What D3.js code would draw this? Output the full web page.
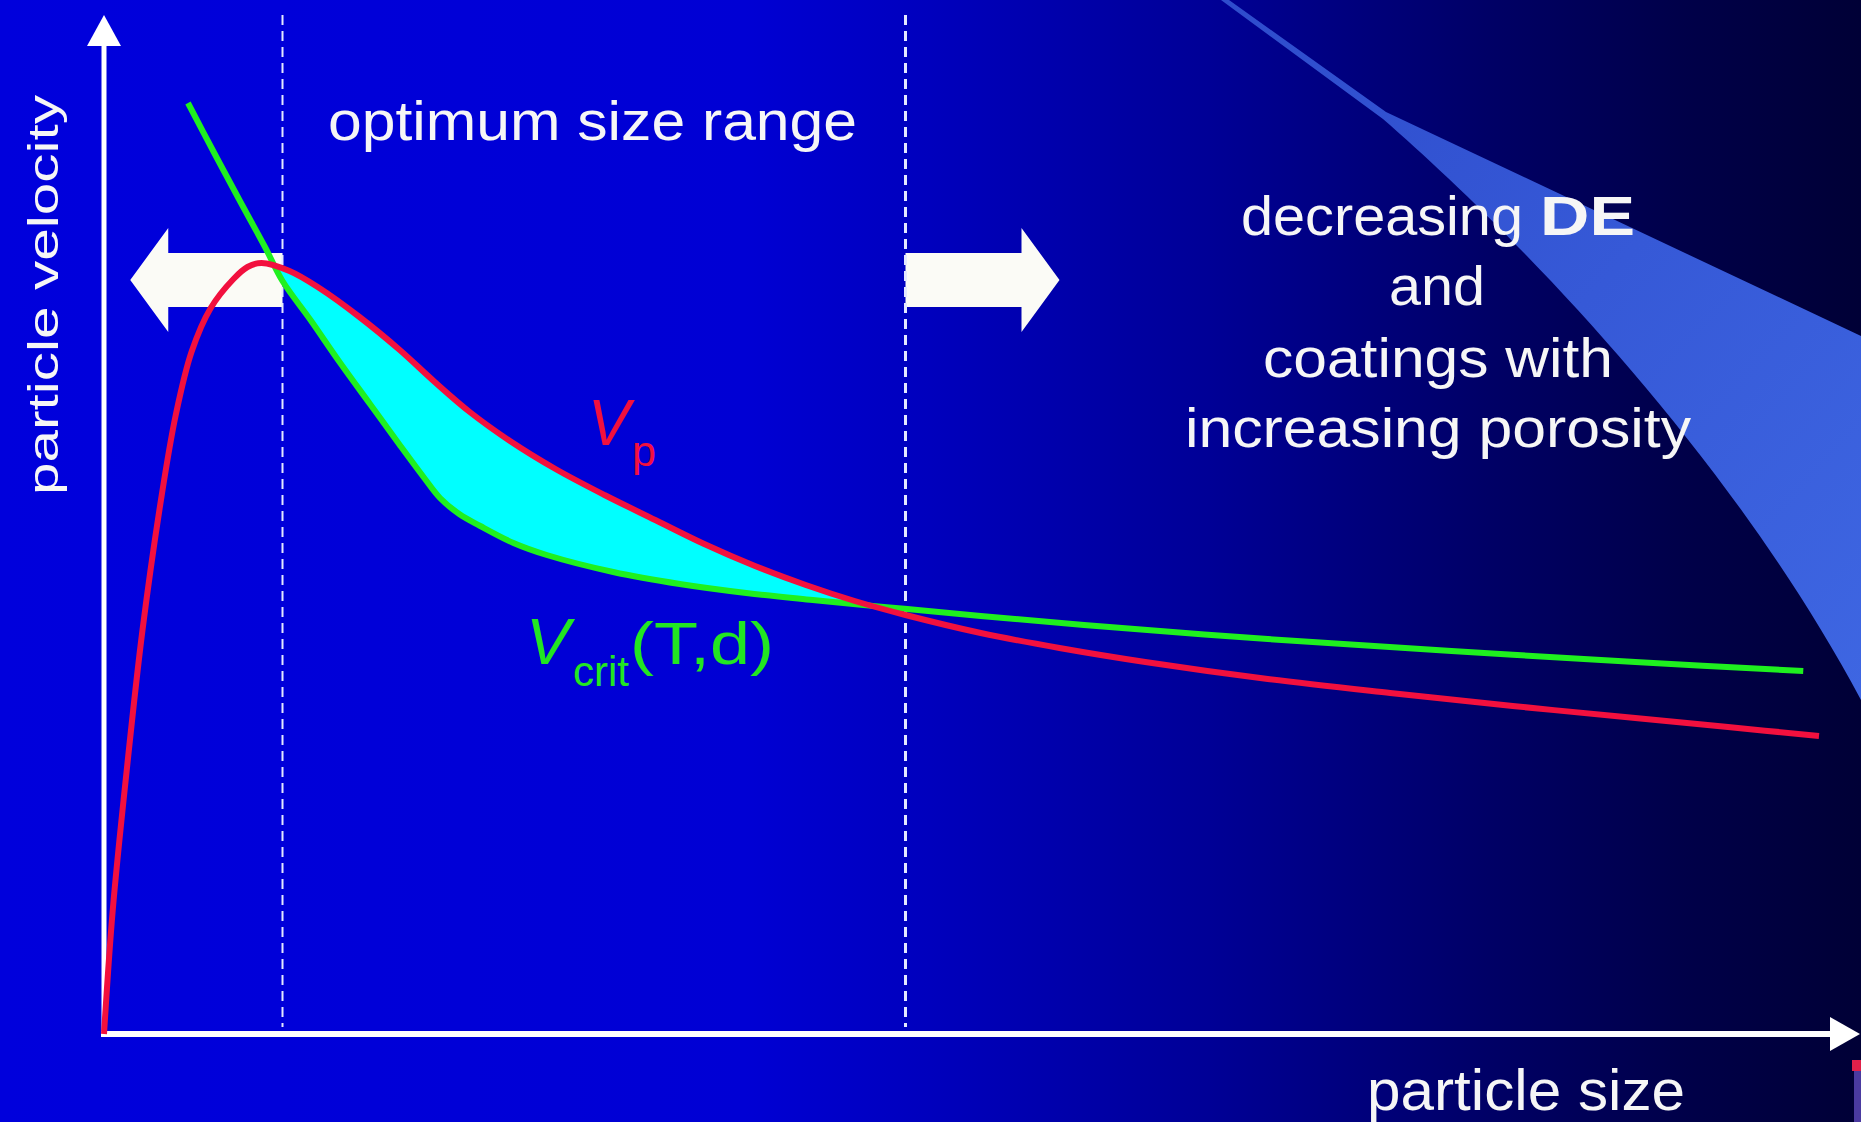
<!DOCTYPE html>
<html>
<head>
<meta charset="utf-8">
<script src="https://cdn.jsdelivr.net/npm/d3@7"></script>
<style>
  html, body { margin: 0; padding: 0; background: #000; overflow: hidden; }
  svg { display: block; }
  text { font-family: "Liberation Sans", Arial, Helvetica, sans-serif; }
</style>
</head>
<body>
<svg id="chart" width="1861" height="1122"></svg>
<script>
// particle size is in arbitrary units (0-100), velocity too (0-100)
// values

// particle velocity Vp (red)
const vpSize  = [0, 0.5, 1.3, 2.2, 3.3, 4.1, 5.0, 6.1, 7.4, 8.2, 9.0, 10.6, 12.3, 14.6, 16.9, 18.9, 20.9, 23.2,
                 25.8, 28.6, 31.5, 34.3, 37.2, 40.1, 42.9, 45.8, 50.1, 54.6, 59.5, 66.5, 73.5, 80.5, 87.5, 92.8, 98.0];
const vpValue = [0, 12.4, 26.4, 40.4, 53.9, 61.9, 68.2, 72.6, 75.5, 76.7, 77.1, 76.3, 74.6, 71.7, 68.4, 65.2, 62.2, 59.3,
                 56.5, 53.9, 51.4, 49.0, 46.8, 44.9, 43.3, 41.9, 40.1, 38.6, 37.2, 35.5, 34.1, 32.8, 31.6, 30.7, 29.8];

// critical velocity Vcrit(T,d) (green)
const vcSize  = [4.8, 6.3, 7.8, 9.2, 10.2, 11.8, 13.5, 15.2, 16.9, 18.3, 19.2, 20.3, 21.5, 23.4, 25.3,
                 29.1, 32.9, 36.7, 40.5, 43.4, 45.9, 50.1, 56.0, 66.5, 77.0, 87.5, 97.1];
const vcValue = [93.1, 88.1, 83.2, 78.7, 75.3, 71.4, 67.1, 63.0, 58.9, 55.6, 53.6, 52.0, 50.8, 49.1, 47.9,
                 46.2, 45.0, 44.1, 43.4, 42.9, 42.5, 41.8, 40.9, 39.5, 38.3, 37.2, 36.3];

// where Vp > Vcrit (cyan window), and the dashed "optimum size range" bounds
const windowBounds = [9.6, 43.9];
const rangeBounds = [10.2, 45.8];
// block arrows: [from, to] in size units, at this velocity level
const arrowLeft = [10.2, 1.5];
const arrowRight = [45.8, 54.6];
const arrowLevel = 75.4;

const W = 1861, H = 1122;
const svg = d3.select('#chart');

const x = d3.scaleLinear().domain([0, 100]).range([104, 1854]);
const y = d3.scaleLinear().domain([0, 100]).range([1034, 34]);

const defs = svg.append('defs');

// slide background: bright blue fading to navy on the right
const bg = defs.append('linearGradient').attr('id', 'bgGrad')
    .attr('x1', 0).attr('y1', 0).attr('x2', 1).attr('y2', 0);
[[0, '#0000dc'], [0.4, '#0000d4'], [0.5, '#0000bd'], [0.65, '#000096'], [0.8, '#000066'], [0.9, '#00004a'], [1, '#000036']]
    .forEach(s => bg.append('stop').attr('offset', s[0]).attr('stop-color', s[1]));

const sw = defs.append('linearGradient').attr('id', 'swGrad')
    .attr('x1', 0).attr('y1', 0).attr('x2', 1).attr('y2', 1);
sw.append('stop').attr('offset', 0).attr('stop-color', '#2e4ccc');
sw.append('stop').attr('offset', 1).attr('stop-color', '#3e66e2');

svg.append('rect').attr('width', W).attr('height', H).attr('fill', 'url(#bgGrad)');

// the template swoosh in the top right corner: thin at the top, then widening
svg.append('path')
    .attr('d', 'M1221,0 L1229,0 L1386,112 L1861,336 L1861,700 C1725,445 1505,225 1383,119 Z')
    .attr('fill', 'url(#swGrad)');

// little logo corner bottom right
svg.append('rect').attr('x', 1852).attr('y', 1060).attr('width', 9).attr('height', 11).attr('fill', '#e0204a');
svg.append('rect').attr('x', 1854).attr('y', 1071).attr('width', 7).attr('height', 51).attr('fill', '#4a3aa0');

// block arrows
function blockArrow(from, to) {
    const x0 = x(from), x1 = x(to), cy = y(arrowLevel);
    const dir = Math.sign(x1 - x0);
    const headLen = 38, body = 27, head = 52;
    const xb = x1 - dir * headLen;
    return [[x0, cy - body], [xb, cy - body], [xb, cy - head], [x1, cy], [xb, cy + head], [xb, cy + body], [x0, cy + body]];
}
[arrowLeft, arrowRight].forEach(a => {
    svg.append('polygon')
        .attr('points', blockArrow(a[0], a[1]).map(p => p.join(',')).join(' '))
        .attr('fill', '#fbfbf6');
});

// dashed bounds of the optimum size range
rangeBounds.forEach((d, i) => {
    svg.append('line')
        .attr('x1', x(d)).attr('x2', x(d))
        .attr('y1', 15).attr('y2', 1027)
        .attr('stroke', '#e4e8ff')
        .attr('stroke-width', i === 0 ? 2 : 3)
        .attr('stroke-dasharray', '10,6');
});

// axes with arrow heads
const ax = svg.append('g').attr('class', 'axes');
ax.append('line').attr('x1', x(0)).attr('x2', x(0)).attr('y1', y(0) + 3).attr('y2', 40)
    .attr('stroke', '#fff').attr('stroke-width', 5);
ax.append('polygon').attr('points', [[x(0), 15], [x(0) - 17, 46], [x(0) + 17, 46]].map(p => p.join(',')).join(' '))
    .attr('fill', '#fff');
ax.append('line').attr('x1', x(0) - 3).attr('x2', 1835).attr('y1', y(0)).attr('y2', y(0))
    .attr('stroke', '#fff').attr('stroke-width', 6);
ax.append('polygon').attr('points', [[1860, y(0)], [1830, y(0) - 17], [1830, y(0) + 17]].map(p => p.join(',')).join(' '))
    .attr('fill', '#fff');

// curves
const vp = vpSize.map((d, i) => [d, vpValue[i]]);
const vc = vcSize.map((d, i) => [d, vcValue[i]]);

const line = d3.line().x(d => x(d[0])).y(d => y(d[1])).curve(d3.curveCatmullRom.alpha(0.5));

function interp(pts, s) {
    const f = d3.scaleLinear().domain(pts.map(p => p[0])).range(pts.map(p => p[1]));
    return f(s);
}

// cyan window between the curves
const [w0, w1] = windowBounds;
const upper = [[w0, interp(vp, w0)], ...vp.filter(p => p[0] > w0 && p[0] < w1), [w1, interp(vp, w1)]];
const lower = [[w0, interp(vc, w0)], ...vc.filter(p => p[0] > w0 && p[0] < w1), [w1, interp(vc, w1)]];
const polyLine = d3.line().x(d => x(d[0])).y(d => y(d[1]));
svg.append('path')
    .attr('d', polyLine(upper.concat(lower.slice().reverse())) + 'Z')
    .attr('fill', '#00ffff');

const red = '#f2103e', green = '#22e622';
svg.append('path').datum(vc).attr('d', line)
    .attr('fill', 'none').attr('stroke', '#1ff01f').attr('stroke-width', 6).attr('stroke-linejoin', 'round');
svg.append('path').datum(vp).attr('d', line)
    .attr('fill', 'none').attr('stroke', red).attr('stroke-width', 6).attr('stroke-linejoin', 'round');

// labels
const white = '#f6f6f6';
function label(txt, px, py, size, len, color, opts) {
    const t = svg.append('text')
        .attr('x', px).attr('y', py)
        .attr('font-size', size)
        .attr('fill', color || white)
        .text(txt);
    if (len) t.attr('textLength', len).attr('lengthAdjust', 'spacingAndGlyphs');
    if (opts && opts.italic) t.attr('font-style', 'italic');
    if (opts && opts.bold) t.attr('font-weight', 'bold');
    return t;
}

label('optimum size range', 328, 140, 56, 529);
label('particle size', 1367, 1110, 58, 318);

svg.append('text')
    .attr('transform', 'translate(58,295) rotate(-90)')
    .attr('text-anchor', 'middle')
    .attr('font-size', 43)
    .attr('fill', white)
    .attr('textLength', 400).attr('lengthAdjust', 'spacingAndGlyphs')
    .text('particle velocity');

label('decreasing', 1241, 235, 56, 282);
label('DE', 1540, 235, 56, 95, null, { bold: true });
label('and', 1389, 305, 56, 96);
label('coatings with', 1263, 377, 56, 350);
label('increasing porosity', 1185, 447, 56, 506);

label('V', 588, 445, 64, 42, red, { italic: true });
label('p', 632, 466, 42, 24, red);
label('V', 526, 664, 64, 44, green, { italic: true });
label('crit', 573, 686, 42, 56, green);
label('(T,d)', 630, 664, 60, 144, green);
</script>
</body>
</html>
